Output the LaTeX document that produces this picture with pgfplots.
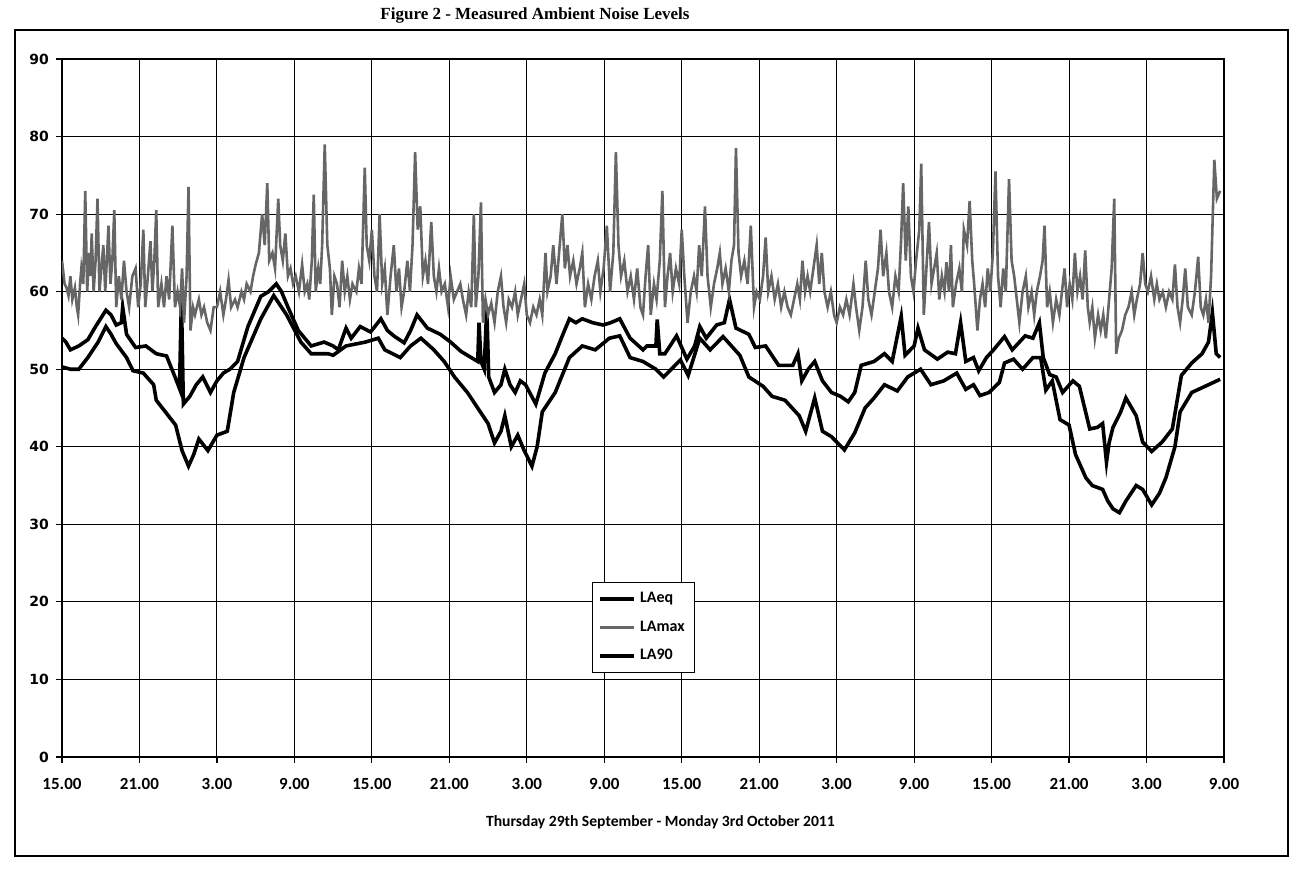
\documentclass[border=0pt]{standalone}
\usepackage{pgfplots}
\pgfplotsset{compat=1.18}
\usepackage{fontspec}
\setmainfont{Carlito}
\newfontfamily\timesfont{Liberation Serif}
\newfontfamily\verdfont{DejaVu Sans}
\begin{document}
\begin{tikzpicture}[x=1pt,y=1pt]
\path (0,0) rectangle (649,438.5);
\draw[line width=0.7pt] (7.5,10.5) rectangle (644,423.5);
\node[font=\timesfont\bfseries\fontsize{8.5}{10}\selectfont] at (267.5,431) {Figure 2 - Measured Ambient Noise Levels};
\begin{axis}[
  at={(31pt,60pt)}, anchor=south west, scale only axis,
  width=581pt, height=349pt,
  xmin=0, xmax=90, ymin=0, ymax=90,
  xtick={0,6,...,90},
  xticklabels={15.00,21.00,3.00,9.00,15.00,21.00,3.00,9.00,15.00,21.00,3.00,9.00,15.00,21.00,3.00,9.00},
  ytick={0,10,...,90},
  xtick pos=left, ytick pos=left,
  grid=major,
  major grid style={black, line width=0.55pt},
  axis line style={black, line width=0.6pt},
  tick style={black, line width=0.6pt},
  tick align=outside, major tick length=3pt,
  /pgf/number format/assume math mode=true,
  xticklabel style={font=\bfseries\fontsize{8.5}{10}\selectfont, yshift=-4pt},
  yticklabel style={font=\verdfont\bfseries\fontsize{7}{8}\selectfont},
  xlabel={Thursday 29th September - Monday 3rd October 2011},
  xlabel style={font=\bfseries\fontsize{7.8}{9}\selectfont, at={(axis description cs:0.515,0)}, anchor=center, yshift=-32.5pt},
  legend style={at={(0.456,0.251)}, anchor=north west, draw=black, line width=0.6pt, fill=white,
    font=\bfseries\fontsize{8}{9}\selectfont, cells={anchor=west}, row sep=3.5pt, inner sep=3pt},
  legend image code/.code={\draw[#1] (0pt,0pt) -- (17pt,0pt);},
]
% LAeq
\addplot[black, line width=1.8pt] coordinates {
(0,54) (0.3,53.5) (0.65,52.5) (1.3,53) (2,53.8) (2.6,55.5) (3.4,57.6) (3.8,57) (4.2,55.7) (4.6,56) (4.7,58) (5,54.5) (5.7,52.8) (6.5,53) (7.3,52) (8.1,51.7) (8.8,48.8) (9.1,47.5) (9.25,59) (9.4,45.5) (9.9,46.5) (10.4,48) (10.9,49) (11.5,47) (12,48.5) (12.5,49.5) (13,50) (13.6,51) (14.4,55.5) (15.4,59.4) (16,60) (16.6,61) (17,60) (17.5,58) (18.3,55) (18.8,54) (19.3,53) (20.3,53.5) (21,53) (21.4,52.5) (22,55.3) (22.4,54) (23.1,55.5) (23.9,54.8) (24.7,56.5) (25.2,55) (25.7,54.3) (26.5,53.4) (27,55) (27.5,57) (28.3,55.3) (29.3,54.5) (30.1,53.5) (30.9,52.3) (31.7,51.5) (32.2,51) (32.3,56) (32.45,51) (32.7,50) (32.9,58) (33.05,49) (33.5,47) (34,48) (34.3,50) (34.7,48) (35.1,47) (35.5,48.5) (35.9,48) (36.7,45.5) (37.4,49.5) (38.2,52) (38.8,54.5) (39.3,56.5) (39.8,56) (40.3,56.5) (41.1,56) (41.9,55.7) (42.5,56) (43.2,56.5) (44,54) (45,52.5) (45.3,53) (46,53) (46.1,56.4) (46.3,52) (46.7,52) (47.6,54.3) (48.4,51.3) (49,53) (49.4,55.5) (49.9,54) (50.7,55.7) (51.3,56) (51.7,59) (52.2,55.3) (53.2,54.5) (53.7,52.8) (54.5,53) (55.5,50.5) (56.6,50.5) (57,52) (57.3,48.5) (57.8,50) (58.3,51) (58.9,48.5) (59.6,47) (60.3,46.5) (60.9,45.8) (61.4,47) (61.9,50.5) (62.9,51) (63.7,52) (64.3,51) (65,56.8) (65.3,51.8) (66,53) (66.3,55.3) (66.8,52.5) (67.8,51.3) (68.6,52.2) (69.2,52) (69.6,56) (70,51) (70.6,51.5) (71,49.8) (71.6,51.5) (72.1,52.4) (73,54.2) (73.6,52.5) (74.6,54.3) (75.2,54) (75.7,56) (76,51.5) (76.5,49.3) (77,49) (77.5,47) (78.3,48.5) (78.8,47.8) (79.6,42.3) (80.2,42.5) (80.6,43) (80.9,38) (81.1,40.5) (81.4,42.5) (82,44.5) (82.4,46.3) (83.2,44) (83.7,40.6) (84.4,39.4) (85.2,40.6) (86,42.3) (86.7,49.2) (87.5,50.8) (88.3,52) (88.8,53.5) (89.1,57.3) (89.4,52) (89.7,51.5)
};
\addlegendentry{LAeq}
% LAmax
\addplot[black!60, line width=1.3pt] coordinates {
(0,64) (0.2,61) (0.35,60.5) (0.5,59.5) (0.65,62) (0.8,59) (1.0,60.5) (1.15,58) (1.25,57) (1.4,61) (1.5,63) (1.65,61) (1.8,73) (1.95,60) (2.1,65) (2.2,62) (2.3,67.5) (2.45,60) (2.6,64) (2.75,72) (2.9,60) (3.05,63) (3.2,66) (3.35,60) (3.5,65) (3.6,68.5) (3.75,61) (3.9,64) (4.05,70.5) (4.2,58) (4.4,62) (4.6,59) (4.8,64) (5.0,60) (5.2,58) (5.45,62) (5.7,63) (5.9,58) (6.1,61) (6.3,68) (6.45,58) (6.65,62) (6.85,66.5) (7.0,60) (7.15,64) (7.3,70.5) (7.45,58) (7.7,61) (7.9,58) (8.1,62) (8.3,59) (8.55,68.5) (8.75,58) (8.95,60) (9.15,58) (9.3,63) (9.45,56) (9.65,62) (9.8,73.5) (9.95,55) (10.15,58) (10.3,57) (10.6,59) (10.8,57) (11.0,58) (11.25,56) (11.5,55) (11.75,58) (12.0,58) (12.25,60) (12.5,57) (12.7,59) (12.9,61.5) (13.1,58) (13.4,59) (13.6,58) (13.9,60) (14.1,59) (14.3,61) (14.6,60) (14.8,62) (15.0,63.5) (15.25,65) (15.5,70) (15.7,66) (15.9,74) (16.05,64) (16.3,65) (16.5,63) (16.75,72) (16.9,66) (17.1,64) (17.3,67.5) (17.5,62) (17.7,63) (17.9,61) (18.1,62) (18.35,60) (18.6,63.5) (18.8,60) (19.0,61) (19.15,59) (19.35,64) (19.5,72.5) (19.65,60) (19.85,63) (20.0,61) (20.15,66) (20.35,79) (20.55,66) (20.75,63) (20.9,57) (21.1,62) (21.3,61) (21.5,58) (21.7,64) (21.9,60) (22.1,62) (22.3,59) (22.5,61) (22.8,60) (23.0,63) (23.2,61) (23.45,76) (23.6,66) (23.8,64) (24.0,68) (24.2,62) (24.4,60) (24.6,70) (24.8,61) (25.0,63) (25.2,57) (25.45,62) (25.7,66) (25.9,60) (26.1,63) (26.3,58) (26.5,60) (26.75,64) (26.95,60) (27.15,66) (27.35,78) (27.55,68) (27.75,71) (27.95,62) (28.15,64) (28.35,61) (28.6,69) (28.8,62) (29.0,60) (29.2,63) (29.4,60) (29.65,61) (29.9,58) (30.1,62) (30.35,59) (30.6,60) (30.85,61) (31.05,59) (31.3,57) (31.5,60) (31.7,58) (31.9,70) (32.05,58) (32.25,62) (32.45,71.5) (32.6,56) (32.8,59) (33.0,57) (33.25,58.5) (33.5,56) (33.75,60) (34.0,62) (34.2,58) (34.4,56) (34.6,59) (34.85,58) (35.1,60) (35.3,57) (35.55,59) (35.8,61) (36.0,57) (36.25,56) (36.5,58) (36.75,57) (37.0,59) (37.2,57) (37.45,65) (37.6,60) (37.85,62) (38.05,66) (38.3,61) (38.5,65) (38.75,70) (38.95,63) (39.15,66) (39.35,62) (39.6,64) (39.85,61) (40.1,63) (40.3,65) (40.5,58) (40.75,61) (41.0,59) (41.25,62) (41.5,64) (41.7,60) (41.95,63) (42.2,68.5) (42.45,60) (42.7,65) (42.9,78) (43.1,66) (43.3,62) (43.55,64) (43.8,60) (44.05,62) (44.3,59) (44.55,63) (44.8,58) (45.0,57) (45.2,62) (45.4,66) (45.6,57) (45.85,61) (46.05,59) (46.3,64) (46.5,73) (46.7,58) (46.9,62) (47.1,65) (47.3,60) (47.55,63) (47.8,61) (48.0,68) (48.2,62) (48.45,56) (48.7,60) (48.95,62) (49.15,60) (49.35,66) (49.55,62) (49.8,71) (50.0,62) (50.25,58) (50.5,61) (50.75,63) (50.95,65) (51.15,61) (51.4,63) (51.65,60) (51.85,64) (52.05,66) (52.2,78.5) (52.4,65) (52.6,62) (52.85,64) (53.1,61) (53.35,68.5) (53.6,58) (53.8,60) (54.05,59) (54.3,62) (54.5,67) (54.7,60) (54.95,62) (55.2,59) (55.45,61) (55.7,58) (55.95,60) (56.2,58) (56.45,57) (56.7,59) (56.95,61) (57.15,59) (57.35,64) (57.55,60) (57.75,62) (57.95,60) (58.2,63) (58.45,66) (58.65,61) (58.85,65) (59.05,60) (59.3,58) (59.55,60) (59.8,57) (60.0,56) (60.25,58) (60.5,57) (60.75,59) (61.0,57) (61.3,61) (61.5,58) (61.75,55) (62.0,58) (62.25,64) (62.45,59) (62.7,57) (62.95,60) (63.2,63) (63.4,68) (63.6,62) (63.85,65) (64.05,60) (64.3,58) (64.55,62) (64.8,60) (65.0,67) (65.15,74) (65.35,64) (65.55,71) (65.75,62) (65.95,60) (66.15,64) (66.4,68) (66.55,76.5) (66.75,57) (66.95,63) (67.15,69) (67.35,61) (67.55,63) (67.75,65) (67.95,59) (68.15,62) (68.35,60) (68.5,63.8) (68.7,60) (68.85,66) (69.0,58) (69.25,61) (69.5,63) (69.7,60) (69.85,68) (70.1,66) (70.3,71.7) (70.5,64) (70.65,61) (70.9,55) (71.1,59) (71.3,61) (71.5,58) (71.7,63) (71.9,60) (72.1,65) (72.3,75.5) (72.5,62) (72.7,58) (72.9,63) (73.1,60) (73.35,74.5) (73.55,64) (73.75,62) (73.95,59) (74.15,56) (74.4,60) (74.65,62) (74.85,58) (75.1,60) (75.3,57) (75.5,60) (75.75,62) (75.95,64) (76.1,68.5) (76.3,58) (76.5,60) (76.75,56) (77.0,59) (77.25,57) (77.45,60) (77.65,63) (77.85,58) (78.05,61) (78.25,59) (78.45,65) (78.65,60) (78.85,62) (79.05,59) (79.25,65.3) (79.45,58) (79.6,56) (79.8,58) (80.0,54) (80.25,57) (80.45,55) (80.65,57) (80.85,54) (81.05,58) (81.3,63) (81.5,72) (81.65,52) (81.85,54) (82.1,55) (82.35,57) (82.6,58) (82.85,60) (83.05,57) (83.25,59) (83.5,61) (83.7,65) (83.9,61) (84.1,60) (84.35,62) (84.6,59) (84.8,61) (85.0,59) (85.25,60) (85.5,58) (85.75,60) (86.0,59) (86.2,63.5) (86.4,58) (86.6,56) (86.8,59) (87.0,63) (87.2,58) (87.5,57) (87.75,60) (88.0,64.5) (88.2,58) (88.4,57) (88.6,59) (88.8,56) (89.0,62) (89.25,77) (89.45,72) (89.7,73)
};
\addlegendentry{LAmax}
% LA90
\addplot[black, line width=1.8pt] coordinates {
(0,50.3) (0.65,50) (1.3,50) (2,51.5) (2.8,53.5) (3.4,55.5) (3.8,54.5) (4.2,53.3) (5,51.5) (5.5,49.8) (6.3,49.5) (7.1,48) (7.3,46) (8.1,44.3) (8.8,42.8) (9.3,39.5) (9.8,37.5) (10.2,39) (10.6,41) (11.3,39.5) (12,41.5) (12.8,42) (13.3,47) (14.1,51.5) (15.4,56.5) (16.4,59.5) (17.4,57) (18.5,53.5) (19.3,52) (20.6,52) (21,51.8) (22,53) (23.5,53.5) (24.5,54) (25,52.5) (26.2,51.5) (27,53) (27.8,54) (28.8,52.5) (29.6,51) (30.4,49) (31.4,47) (32.2,45) (33,43) (33.5,40.5) (34,42) (34.3,44) (34.8,40) (35.3,41.5) (35.8,39.5) (36.4,37.5) (36.8,40) (37.2,44.5) (38.2,47) (39.3,51.5) (40.3,53) (41.3,52.5) (42.4,54) (43.2,54.3) (44,51.5) (45,51) (46,50) (46.6,49) (47.9,51.2) (48.5,49.2) (49.4,54) (50.2,52.5) (51.2,54.2) (52.5,51.8) (53.2,49) (54.3,47.8) (55,46.5) (56,46) (57.1,44) (57.6,42) (58.3,46.3) (58.9,42) (59.6,41.3) (60.6,39.6) (61.4,41.8) (62.2,45) (62.9,46.3) (63.7,48) (64.7,47.2) (65.5,49) (66.5,50) (67.3,48) (68.3,48.5) (69.3,49.5) (70,47.4) (70.6,48) (71.1,46.6) (71.8,47) (72.6,48.3) (73,50.8) (73.7,51.3) (74.4,50) (75.2,51.5) (75.8,51.5) (76.2,47.3) (76.7,48.5) (77.3,43.5) (78,42.8) (78.5,39) (79.3,36) (79.8,35) (80.6,34.5) (81,33) (81.4,32) (81.9,31.5) (82.4,33) (83.2,35) (83.7,34.5) (84.4,32.5) (85,34) (85.5,36) (86.2,40) (86.6,44.5) (87.5,47) (88.8,48) (89.7,48.7)
};
\addlegendentry{LA90}
\end{axis}
\end{tikzpicture}
\end{document}
